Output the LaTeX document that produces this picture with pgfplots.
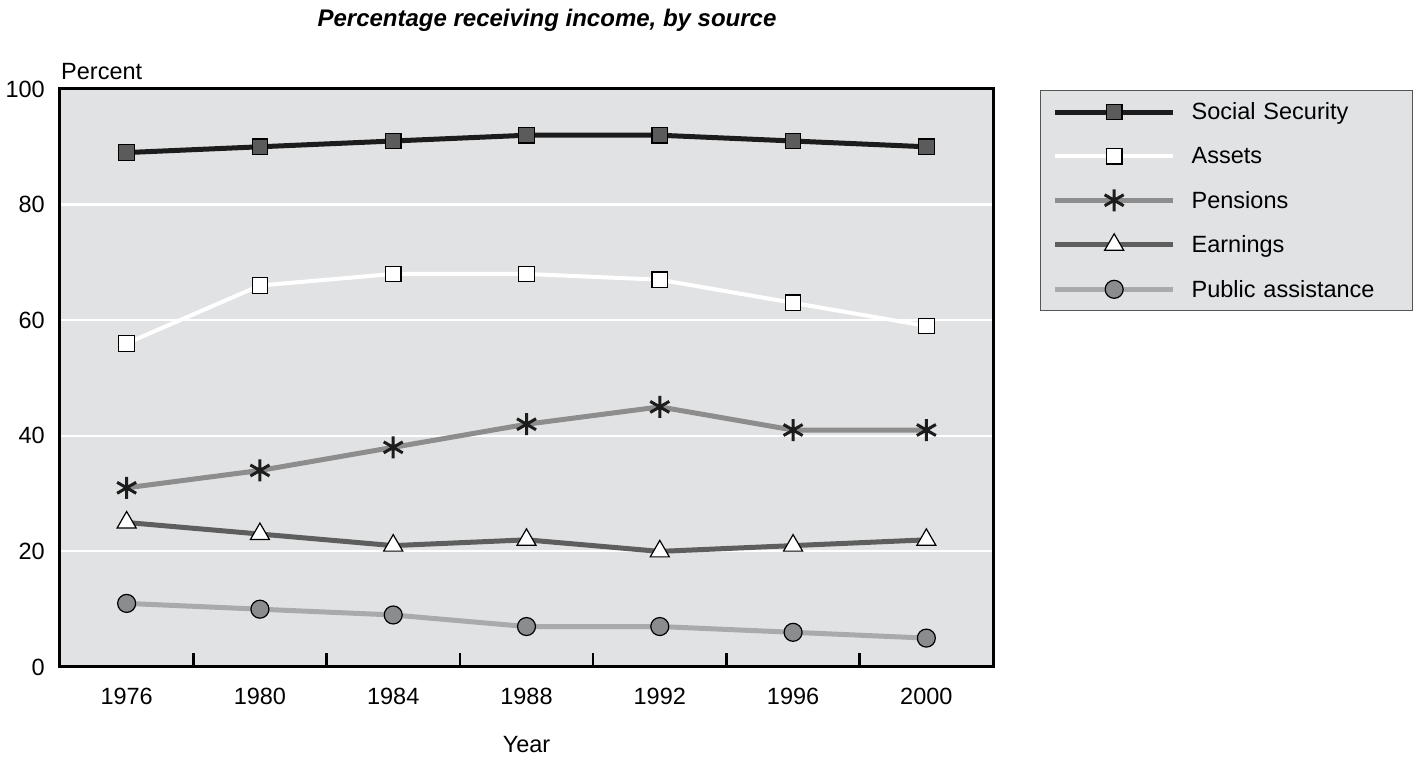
\documentclass[border=0pt]{standalone}
\usepackage{pgfplots}
\pgfplotsset{compat=1.18}
\usepackage{fontspec}
\setmainfont{Liberation Sans}

\definecolor{plotbg}{HTML}{E1E2E4}
\definecolor{ssline}{HTML}{1C1C1C}
\definecolor{ssfill}{HTML}{5B5B5B}
\definecolor{penline}{HTML}{8D8D8D}
\definecolor{earnline}{HTML}{5E5E5E}
\definecolor{paline}{HTML}{A9AAAC}
\definecolor{pafill}{HTML}{8B8C8E}
\definecolor{legframe}{HTML}{555555}

\begin{document}
\begin{tikzpicture}[x=1pt,y=1pt]
\useasboundingbox (0,0) rectangle (1416,759);
\begin{axis}[
  at={(60pt,92pt)}, anchor=south west,
  scale only axis, width=933pt, height=578pt,
  xmin=-0.5, xmax=6.5, ymin=0, ymax=100,
  axis background/.style={fill=plotbg},
  axis line style={line width=3pt, black},
  tick pos=left,
  xtick={0,...,6},
  xticklabels={1976,1980,1984,1988,1992,1996,2000},
  ytick={0,20,...,100},
  major tick length=0pt,
  extra x ticks={0.5,1.5,...,5.5},
  extra x tick labels={},
  extra x tick style={major tick length=14pt, tick align=inside,
    tick style={black, line width=2.5pt}},
  ymajorgrids,
  grid style={white, line width=2.2pt},
  tick label style={font=\fontsize{23.5}{28}\selectfont, inner sep=0pt},
  /pgf/number format/assume math mode=true,
  yticklabel shift=15pt,
  xticklabel shift=21pt,
  legend style={at={(1.0504,0.998)}, anchor=north west,
    fill=plotbg, draw=legframe, line width=1.3pt,
    font=\fontsize{23.5}{28}\selectfont,
    inner xsep=12pt, inner ysep=10pt, row sep=22pt,
    /tikz/every odd column/.append style={column sep=14pt},
    /tikz/every even column/.append style={text width=207pt}},
  legend cell align=left,
  legend image code/.code={\draw[mark repeat=2,mark phase=2,#1]
    plot coordinates {(0pt,0pt) (59pt,0pt) (118pt,0pt)};},
]
\addplot[ssline, line width=5pt, mark=square*, mark size=7.8pt,
  mark options={solid, fill=ssfill, draw=black, line width=1.2pt}]
  coordinates {(0,89) (1,90) (2,91) (3,92) (4,92) (5,91) (6,90)};
\addlegendentry{Social Security}
\addplot[white, line width=4pt, mark=square*, mark size=7.8pt,
  mark options={solid, fill=white, draw=black, line width=1.2pt}]
  coordinates {(0,56) (1,66) (2,68) (3,68) (4,67) (5,63) (6,59)};
\addlegendentry{Assets}
\addplot[penline, line width=5pt, mark=asterisk, mark size=11pt,
  mark options={solid, draw=ssline, line width=3pt}]
  coordinates {(0,31) (1,34) (2,38) (3,42) (4,45) (5,41) (6,41)};
\addlegendentry{Pensions}
\addplot[earnline, line width=5pt, mark=triangle*, mark size=11pt,
  mark options={solid, fill=white, draw=black, line width=1.2pt}]
  coordinates {(0,25) (1,23) (2,21) (3,22) (4,20) (5,21) (6,22)};
\addlegendentry{Earnings}
\addplot[paline, line width=5pt, mark=*, mark size=9pt,
  mark options={solid, fill=pafill, draw=black, line width=1.2pt}]
  coordinates {(0,11) (1,10) (2,9) (3,7) (4,7) (5,6) (6,5)};
\addlegendentry{Public assistance}
\end{axis}
\node[font=\bfseries\itshape\fontsize{24}{28}\selectfont] at (547,739) {Percentage receiving income, by source};
\node[font=\fontsize{23.5}{28}\selectfont, anchor=west, inner sep=0pt] at (61,687) {Percent};
\node[font=\fontsize{23.5}{28}\selectfont, inner sep=0pt] at (526.5,14) {Year};
\end{tikzpicture}
\end{document}
